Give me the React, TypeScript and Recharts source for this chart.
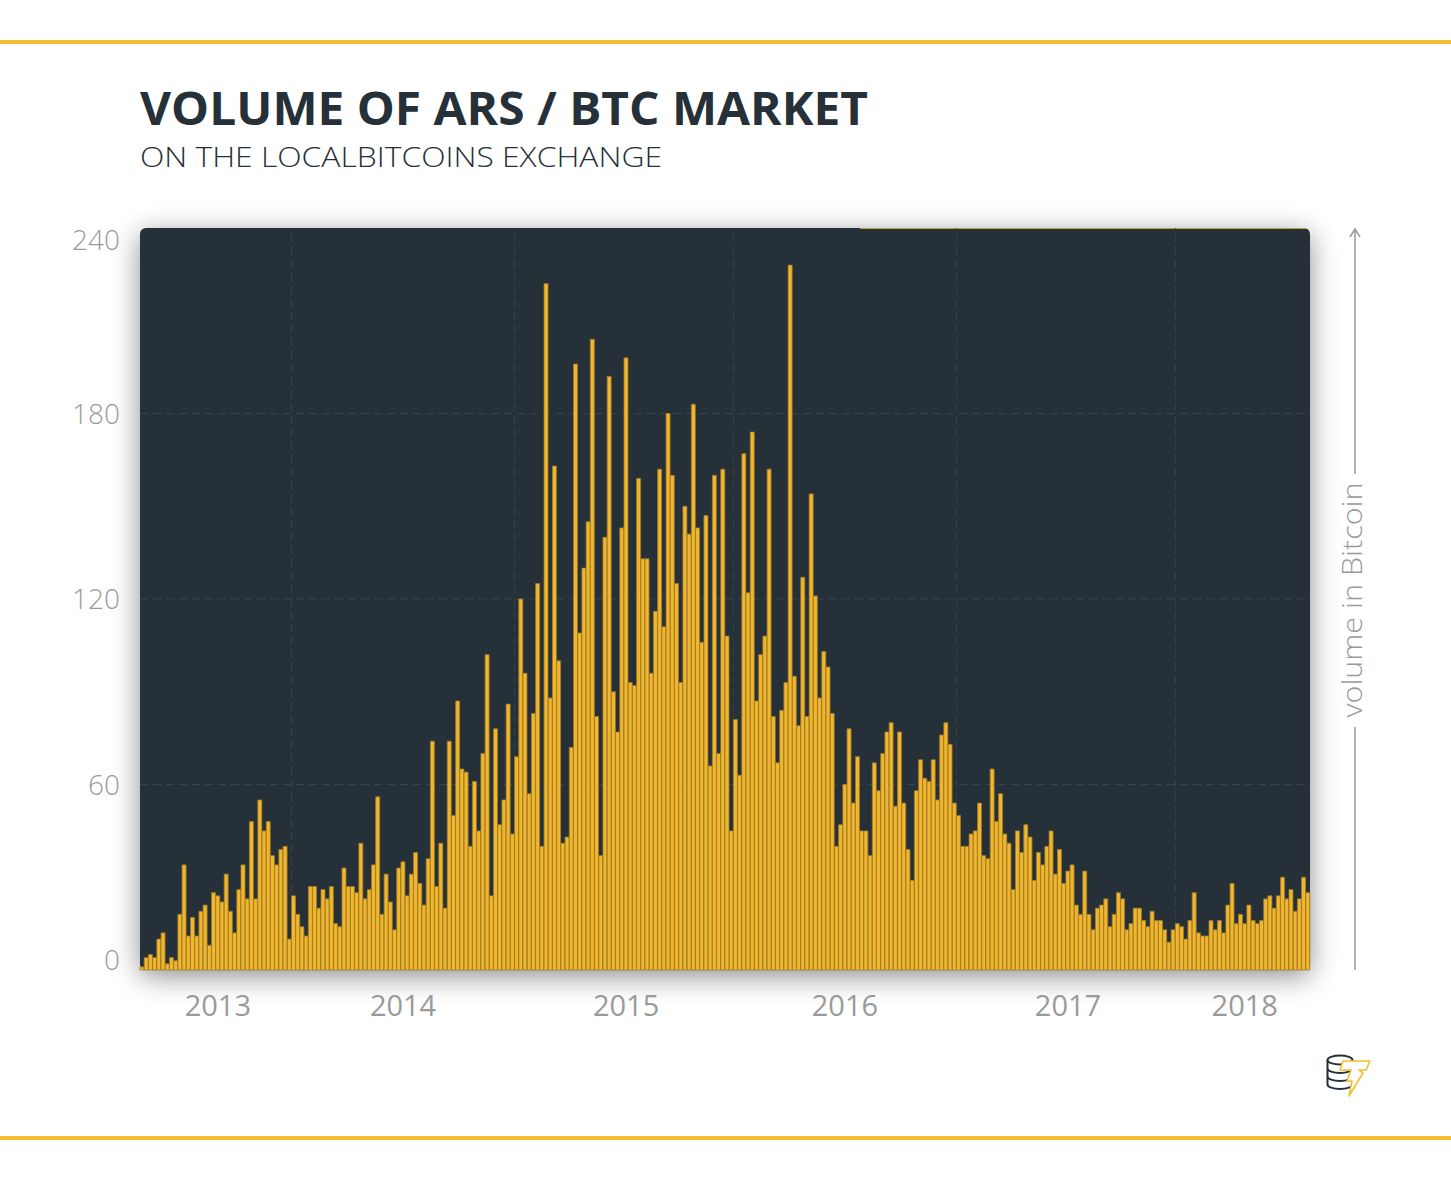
import { Bar, BarChart, CartesianGrid, ReferenceLine, XAxis, YAxis } from "recharts";

// weekly ARS/BTC volume, one array per calendar year
const VOL_2013 = [
  1, 4, 5, 4, 10, 12, 2, 4, 3, 18, 34, 11, 17, 11, 19, 21, 8, 25, 24, 22, 31, 19,
  12, 26, 34, 23, 48, 23, 55, 45, 48, 37, 34, 39, 40, 10,
];
const VOL_2014 = [
  24, 18, 14, 11, 27, 27, 20, 26, 23, 27, 15, 14, 33, 27, 27, 25, 41, 23, 26, 34,
  56, 18, 31, 22, 13, 33, 35, 24, 31, 38, 28, 21, 36, 74, 27, 41, 20, 74, 50, 87,
  65, 64, 40, 61, 45, 70, 102, 24, 78, 47, 55, 86, 44,
];
const VOL_2015 = [
  69, 120, 96, 57, 83, 125, 40, 222, 88, 163, 100, 41, 43, 72, 196, 109, 130, 145,
  204, 82, 37, 140, 192, 90, 77, 143, 198, 93, 92, 159, 133, 133, 96, 116, 162, 111,
  180, 160, 125, 93, 150, 141, 183, 143, 106, 147, 66, 160, 70, 162, 108, 45,
];
const VOL_2016 = [
  81, 63, 167, 122, 174, 87, 102, 108, 162, 82, 67, 84, 93, 228, 95, 79, 127, 82,
  154, 121, 88, 103, 98, 83, 40, 47, 60, 78, 54, 69, 45, 45, 37, 67, 58, 70, 77, 80,
  53, 77, 54, 39, 29, 58, 68, 62, 61, 68, 55, 76, 80, 73, 54,
];
const VOL_2017 = [
  50, 40, 40, 44, 45, 54, 37, 36, 65, 48, 57, 44, 41, 26, 45, 38, 47, 43, 29, 38,
  34, 40, 45, 31, 39, 28, 32, 34, 21, 18, 32, 18, 13, 20, 21, 23, 14, 18, 25, 23,
  13, 15, 20, 20, 16, 14, 19, 16, 16, 13, 9, 13,
];
const VOL_2018 = [
  15, 14, 10, 16, 25, 12, 11, 11, 16, 13, 16, 12, 21, 28, 15, 18, 15, 21, 16, 15,
  16, 23, 24, 20, 24, 30, 23, 26, 19, 23, 30, 25,
];

const YEARS = ["2013", "2014", "2015", "2016", "2017", "2018"];
const Y_TICKS = [0, 60, 120, 180, 240];
const Y_GRID = [60, 120, 180];

const SERIES = [VOL_2013, VOL_2014, VOL_2015, VOL_2016, VOL_2017, VOL_2018];

const data = SERIES.flat().map((volume, week) => ({ week, volume }));

const yearStart: number[] = [];
SERIES.reduce((acc, arr) => {
  yearStart.push(acc);
  return acc + arr.length;
}, 0);
const yearMid = yearStart.map((s, i) => s + Math.floor(SERIES[i].length / 2));
const yearBounds = yearStart.slice(1);

const FONT = "'Open Sans', sans-serif";
const DARK = "#263038";
const GOLD = "#f6be2f";
const GREY = "#9a9a9a";
const GRID = "#37434d";

function YTick(props: any) {
  const { x, y, payload } = props;
  const v = payload.value;
  const shift = v === 240 ? 12 : v === 0 ? -10 : 0;
  return (
    <text
      x={x}
      y={y + shift + 10}
      textAnchor="end"
      fontSize={28}
      fontWeight={300}
      fontFamily={FONT}
      fill={GREY}
    >
      {v}
    </text>
  );
}

function XTick(props: any) {
  const { x, y, payload } = props;
  const label = YEARS[yearMid.indexOf(payload.value)];
  return (
    <text
      x={x}
      y={y + 46}
      textAnchor="middle"
      fontSize={29}
      fontFamily={FONT}
      fill={GREY}
    >
      {label}
    </text>
  );
}

export default function App() {
  return (
    <div
      style={{
        position: "absolute",
        left: 0,
        top: 0,
        width: 1451,
        height: 1180,
        background: "#fff",
        overflow: "hidden",
        fontFamily: FONT,
      }}
    >
      <div style={{ position: "absolute", left: 0, top: 40, width: 1451, height: 4, background: GOLD }} />
      <div style={{ position: "absolute", left: 0, top: 1136, width: 1451, height: 4, background: GOLD }} />

      {/* plot panel */}
      <div
        style={{
          position: "absolute",
          left: 140,
          top: 228,
          width: 1170,
          height: 742,
          background: DARK,
          borderRadius: 6,
          boxShadow: "0 6px 28px rgba(0,0,0,0.45)",
        }}
      />
      <div style={{ position: "absolute", left: 860, top: 228, width: 446, height: 1, background: "#c4a137" }} />

      <div style={{ position: "absolute", left: 0, top: 0 }}>
        <BarChart
          width={1451}
          height={1180}
          data={data}
          margin={{ top: 228, right: 141, bottom: 150, left: 80 }}
          barCategoryGap={0}
          barGap={0}
        >
          <CartesianGrid
            vertical={false}
            horizontalValues={Y_GRID}
            stroke={GRID}
            strokeDasharray="8 5"
          />
          {yearBounds.map((w) => (
            <ReferenceLine
              key={w}
              x={w}
              position="start"
              stroke={GRID}
              strokeDasharray="8 5"
              zIndex={-90}
            />
          ))}
          <XAxis
            dataKey="week"
            type="category"
            ticks={yearMid}
            interval={0}
            axisLine={false}
            tickLine={false}
            tickSize={0}
            tickMargin={0}
            height={60}
            tick={<XTick />}
          />
          <YAxis
            domain={[0, 240]}
            ticks={Y_TICKS}
            interval={0}
            axisLine={false}
            tickLine={false}
            tickSize={0}
            tickMargin={20}
            width={60}
            tick={<YTick />}
          />
          <Bar
            dataKey="volume"
            fill="#f1b62b"
            stroke="#9c7b2c"
            strokeWidth={0.8}
            isAnimationActive={false}
          />
        </BarChart>
      </div>

      <svg
        width={1451}
        height={1180}
        style={{ position: "absolute", left: 0, top: 0, pointerEvents: "none" }}
      >
        <text
          x={140}
          y={125}
          fontSize={46}
          fontWeight={700}
          fontFamily={FONT}
          fill={DARK}
          textLength={728}
          lengthAdjust="spacingAndGlyphs"
        >
          VOLUME OF ARS / BTC MARKET
        </text>
        <text
          x={140}
          y={167}
          fontSize={27}
          fontWeight={300}
          fontFamily={FONT}
          fill={DARK}
          textLength={522}
          lengthAdjust="spacingAndGlyphs"
        >
          ON THE LOCALBITCOINS EXCHANGE
        </text>

        {/* right-hand axis arrow */}
        <g stroke="#9a9a9a" strokeWidth={1.5} fill="none">
          <line x1={1355} y1={229} x2={1355} y2={474} />
          <line x1={1355} y1={727} x2={1355} y2={970} />
          <polyline points="1350,237 1355,229 1360,237" />
        </g>
        <text
          x={1362}
          y={600}
          transform="rotate(-90 1362 600)"
          textAnchor="middle"
          fontSize={28}
          fontWeight={300}
          fontFamily={FONT}
          fill={GREY}
          textLength={235}
          lengthAdjust="spacingAndGlyphs"
        >
          volume in Bitcoin
        </text>

        {/* logo */}
        <g stroke={DARK} strokeWidth={2} fill="#fff">
          <path d="M1327.5 1060 v24.5 a12.5 4.5 0 0 0 25 0 v-24.5" />
          <path d="M1327.5 1068.5 a12.5 4.5 0 0 0 25 0" fill="none" />
          <path d="M1327.5 1076.5 a12.5 4.5 0 0 0 25 0" fill="none" />
          <ellipse cx={1340} cy={1060} rx={12.5} ry={4.5} />
        </g>
        <path
          d="M1343 1061 L1370 1061 L1366 1070 L1359 1070 L1363 1073 L1349 1096 L1352 1081 L1347 1081 L1351 1070 L1340 1070 Z"
          fill="#fff"
          stroke={GOLD}
          strokeWidth={1.6}
          strokeLinejoin="round"
        />
      </svg>
    </div>
  );
}
